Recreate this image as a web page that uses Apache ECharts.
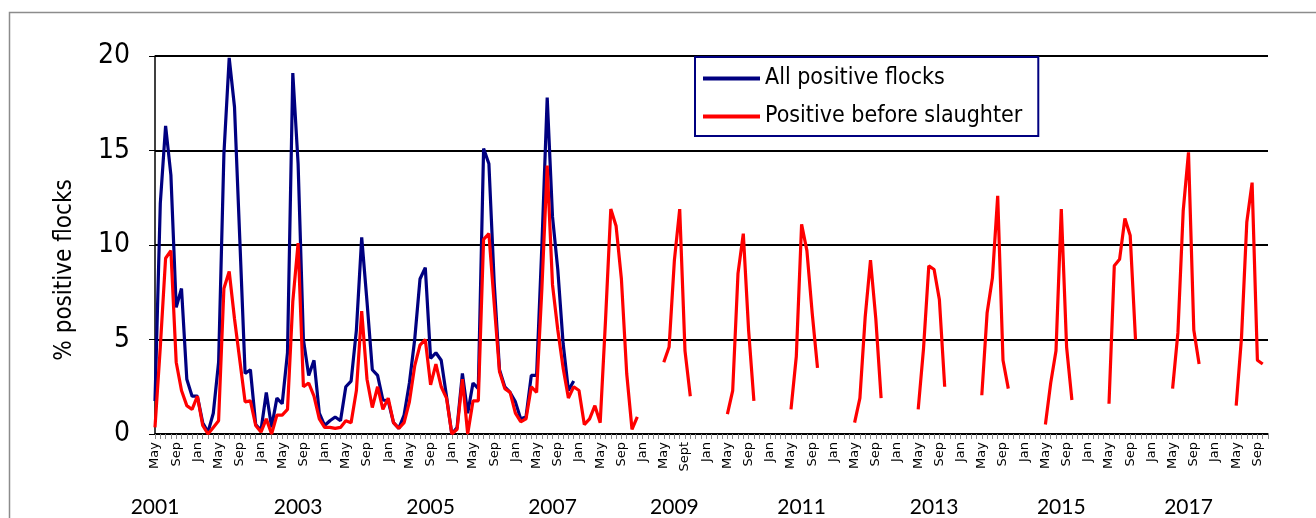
<!DOCTYPE html>
<html>
<head>
<meta charset="utf-8">
<script src="https://cdn.jsdelivr.net/npm/echarts@6/dist/echarts.min.js"></script>
<style>
  html, body { margin: 0; padding: 0; background: #fff; }
  #chart { width: 1316px; height: 518px; }
</style>
</head>
<body>
<div id="chart"></div>
<script>
// month names, one tick per month from May 2001 to Nov 2018
var monthNames = ['Jan', 'Feb', 'Mar', 'Apr', 'May', 'Jun', 'Jul', 'Aug', 'Sep', 'Oct', 'Nov', 'Dec'];
var categories = [];
for (var k = 0; k < 211; k++) {
    categories.push(monthNames[(4 + k) % 12]);
}
categories[100] = 'Sept'; // the 2009 label is spelled out in the original

// year labels and the month index they sit under
var yearLabels = ['2001', '2003', '2005', '2007', '2009', '2011', '2013', '2015', '2017'];
var yearIndex = [0, 27, 52, 75, 98, 122, 147, 171, 195];

// rows of 12 months, May .. Apr
var allPositive = [
    1.75, 12.2, 16.3, 13.7, 6.7, 7.7, 2.9, 2.0, 2.0, 0.6, 0.1, 1.1,
    3.8, 14.8, 19.9, 17.3, 10.3, 3.2, 3.4, 0.5, 0.2, 2.2, 0.35, 1.9,
    1.6, 4.3, 19.1, 14.3, 5.0, 3.1, 3.9, 1.1, 0.45, 0.7, 0.9, 0.7,
    2.5, 2.8, 5.5, 10.4, 7.0, 3.4, 3.1, 1.8, 1.75, 0.6, 0.3, 1.0,
    2.7, 5.0, 8.2, 8.8, 4.0, 4.3, 3.9, 2.0, 0.0, 0.35, 3.2, 1.1,
    2.7, 2.4, 15.1, 14.3, 8.0, 3.4, 2.5, 2.2, 1.7, 0.8, 0.9, 3.1,
    3.1, 10.0, 17.8, 11.5, 8.7, 4.8, 2.3, 2.8
];

var beforeSlaughter = [
    0.35, 4.6, 9.3, 9.7, 3.8, 2.3, 1.5, 1.3, 2.0, 0.45, 0.0, 0.35,
    0.7, 7.7, 8.6, 6.1, 3.9, 1.7, 1.75, 0.45, 0.1, 0.8, 0.0, 1.0,
    1.0, 1.3, 7.0, 10.1, 2.5, 2.7, 2.0, 0.8, 0.35, 0.35, 0.3, 0.35,
    0.7, 0.6, 2.3, 6.5, 2.9, 1.4, 2.5, 1.3, 1.9, 0.6, 0.3, 0.6,
    1.7, 3.6, 4.7, 5.0, 2.6, 3.7, 2.5, 1.9, 0.0, 0.25, 2.9, 0.0,
    1.75, 1.75, 10.3, 10.6, 6.9, 3.3, 2.4, 2.2, 1.1, 0.65, 0.8, 2.5,
    2.2, 7.7, 14.2, 7.9, 5.5, 3.5, 1.9, 2.5, 2.3, 0.5, 0.8, 1.5,
    0.6, 6.0, 11.9, 11.0, 8.2, 3.2, 0.25, 0.9, null, null, null, null,
    3.8, 4.6, 9.2, 11.9, 4.4, 2.0, null, null, null, null, null, null,
    1.05, 2.3, 8.5, 10.6, 5.5, 1.75, null, null, null, null, null, null,
    1.3, 4.1, 11.1, 9.7, 6.4, 3.5, null, null, null, null, null, null,
    0.6, 1.9, 6.2, 9.2, 6.1, 1.9, null, null, null, null, null, null,
    1.3, 4.5, 8.9, 8.7, 7.1, 2.5, null, null, null, null, null, null,
    2.05, 6.4, 8.25, 12.6, 3.9, 2.4, null, null, null, null, null, null,
    0.5, 2.7, 4.4, 11.9, 4.6, 1.8, null, null, null, null, null, null,
    1.6, 8.9, 9.25, 11.4, 10.5, 5.0, null, null, null, null, null, null,
    2.4, 5.35, 11.8, 14.9, 5.5, 3.7, null, null, null, null, null, null,
    1.5, 5.1, 11.2, 13.3, 3.9, 3.7, null
];

var yTicks = [0, 5, 10, 15, 20];

var font = '"DejaVu Sans Condensed", "DejaVu Sans", sans-serif';

var chart = echarts.init(document.getElementById('chart'));

var option = {
    animation: false,
    backgroundColor: '#fff',
    graphic: [{
        type: 'rect',
        shape: { x: 9.5, y: 12.5, width: 1400, height: 600 },
        style: { fill: 'none', stroke: '#8c8c8c', lineWidth: 1.5 },
        silent: true
    }],
    grid: { left: 155, right: 48, top: 56, bottom: 83 },
    legend: {
        data: [
            { name: 'All positive flocks', icon: 'rect' },
            { name: 'Positive before slaughter', icon: 'rect' }
        ],
        orient: 'vertical',
        left: 695,
        top: 57,
        padding: [10, 16, 8, 8],
        itemGap: 15,
        itemWidth: 57,
        itemHeight: 4,
        borderColor: '#000080',
        borderWidth: 2,
        backgroundColor: '#fff',
        selectedMode: false,
        textStyle: { fontFamily: font, fontSize: 23, color: '#000' }
    },
    xAxis: [{
        type: 'category',
        data: categories,
        boundaryGap: false,
        axisLine: { lineStyle: { color: '#000', width: 1.5 } },
        axisTick: { interval: 0, length: 5, lineStyle: { color: '#888' } },
        axisLabel: {
            interval: 3,
            rotate: 90,
            margin: 8,
            fontFamily: '"DejaVu Sans", sans-serif',
            fontSize: 13,
            color: '#000'
        },
        splitLine: { show: false }
    }, {
        type: 'category',
        data: categories,
        boundaryGap: false,
        position: 'bottom',
        offset: 55,
        axisLine: { show: false },
        axisTick: { show: false },
        axisLabel: {
            interval: function (idx) { return yearIndex.indexOf(idx) >= 0; },
            formatter: function (v, idx) {
                var p = yearIndex.indexOf(idx);
                return p >= 0 ? yearLabels[p] : '';
            },
            margin: 8,
            fontFamily: 'Lato, sans-serif',
            fontSize: 21,
            color: '#000'
        }
    }],
    yAxis: {
        type: 'value',
        min: yTicks[0],
        max: yTicks[yTicks.length - 1],
        interval: 5,
        name: '% positive flocks',
        nameLocation: 'middle',
        nameGap: 78,
        nameTextStyle: { fontFamily: font, fontSize: 24, color: '#000', padding: [0, 50, 0, 0] },
        axisLine: { show: true, lineStyle: { color: '#000', width: 1.5 } },
        axisTick: { show: true, length: 6, lineStyle: { color: '#000' } },
        axisLabel: { fontFamily: font, fontSize: 28, color: '#000', margin: 25 },
        splitLine: { lineStyle: { color: '#000', width: 2 } }
    },
    series: [{
        name: 'All positive flocks',
        type: 'line',
        data: allPositive,
        symbol: 'none',
        lineStyle: { color: '#000080', width: 3.2 },
        itemStyle: { color: '#000080' }
    }, {
        name: 'Positive before slaughter',
        type: 'line',
        data: beforeSlaughter,
        symbol: 'none',
        connectNulls: false,
        lineStyle: { color: '#ff0000', width: 3.2 },
        itemStyle: { color: '#ff0000' }
    }]
};

chart.setOption(option);
</script>
</body>
</html>
